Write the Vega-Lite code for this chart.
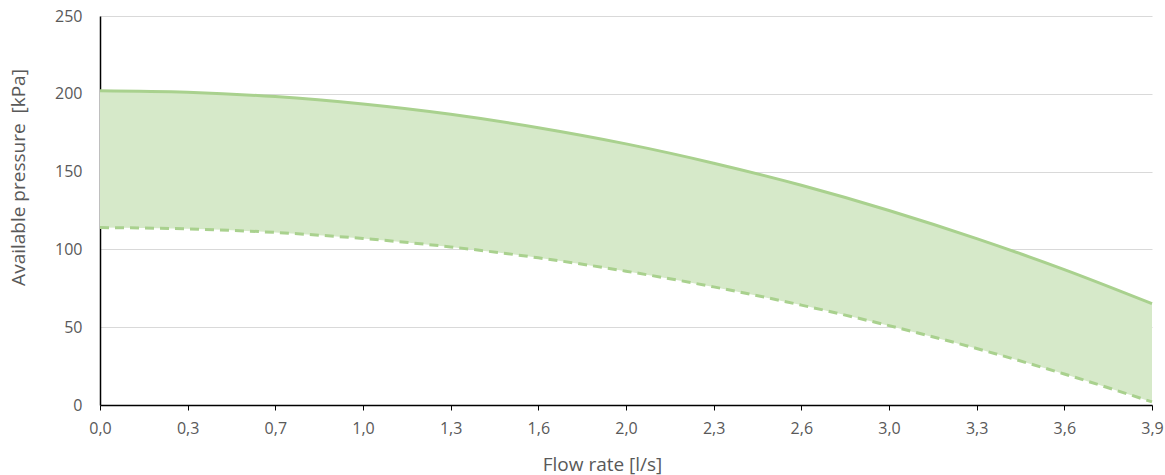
{
  "$schema": "https://vega.github.io/schema/vega-lite/v6.json",
  "width": 1052,
  "height": 389,
  "autosize": {"type": "none"},
  "padding": {"left": 100, "top": 16, "right": 13, "bottom": 70},
  "background": "white",
  "config": {
    "view": {"stroke": null},
    "font": "Open Sans"
  },
  "data": {
    "values": [
      {"q": "0,0", "upper": 202.0, "lower": 114.0},
      {"q": "0,3", "upper": 201.0, "lower": 113.2},
      {"q": "0,7", "upper": 198.2, "lower": 110.9},
      {"q": "1,0", "upper": 193.4, "lower": 107.0},
      {"q": "1,3", "upper": 186.8, "lower": 101.6},
      {"q": "1,6", "upper": 178.2, "lower": 94.6},
      {"q": "2,0", "upper": 167.8, "lower": 86.0},
      {"q": "2,3", "upper": 155.4, "lower": 75.9},
      {"q": "2,6", "upper": 141.2, "lower": 64.2},
      {"q": "3,0", "upper": 125.0, "lower": 51.0},
      {"q": "3,3", "upper": 106.9, "lower": 36.3},
      {"q": "3,6", "upper": 87.0, "lower": 19.9},
      {"q": "3,9", "upper": 65.1, "lower": 2.0}
    ]
  },
  "encoding": {
    "x": {
      "field": "q", "type": "ordinal", "sort": null,
      "scale": {"type": "point", "padding": 0},
      "axis": {
        "title": "Flow rate [l/s]", "labelAngle": 0, "domainColor": "#000000", "domainWidth": 1.5,
        "tickColor": "#000000", "tickSize": 5, "labelPadding": 10, "grid": false,
        "labelFont": "Open Sans", "labelFontSize": 16, "labelColor": "#595959",
        "titleFont": "Open Sans", "titleFontSize": 19, "titleFontWeight": "normal", "titleColor": "#595959",
        "titleX": 502, "titleY": 59, "titleBaseline": "middle", "titleAnchor": "middle", "titleAlign": "center"
      }
    }
  },
  "layer": [
    {
      "mark": {"type": "area", "interpolate": "monotone", "color": "#d6e9c9", "opacity": 1},
      "encoding": {
        "y": {
          "field": "upper", "type": "quantitative",
          "scale": {"domain": [0, 250], "nice": false},
          "axis": {
            "title": "Available pressure \u00a0[kPa]", "values": [0, 50, 100, 150, 200, 250],
            "domainColor": "#000000", "domainWidth": 1.5, "ticks": false, "labelPadding": 18,
            "gridColor": "#d9d9d9", "gridWidth": 1,
            "labelFont": "Open Sans", "labelFontSize": 16, "labelColor": "#595959",
            "titleFont": "Open Sans", "titleFontSize": 19, "titleFontWeight": "normal", "titleColor": "#595959",
            "titleX": -82, "titleY": 161, "titleBaseline": "middle", "titleAnchor": "middle", "titleAlign": "center"
          }
        },
        "y2": {"field": "lower"}
      }
    },
    {
      "mark": {"type": "line", "interpolate": "monotone", "color": "#a9d18e", "strokeWidth": 3},
      "encoding": {"y": {"field": "upper", "type": "quantitative"}}
    },
    {
      "mark": {"type": "line", "interpolate": "monotone", "color": "#a9d18e", "strokeWidth": 3, "strokeDash": [9, 6]},
      "encoding": {"y": {"field": "lower", "type": "quantitative"}}
    }
  ]
}
